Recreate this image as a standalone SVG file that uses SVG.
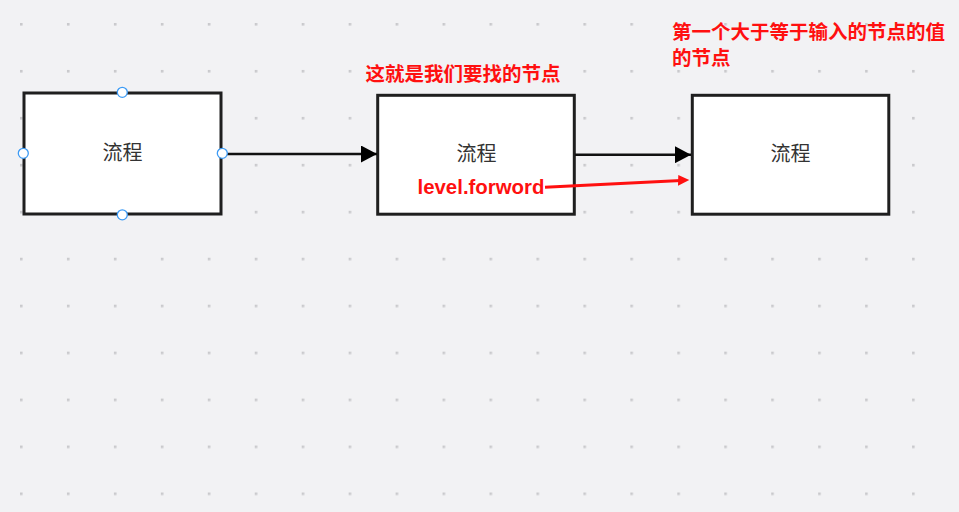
<svg xmlns="http://www.w3.org/2000/svg" width="959" height="512" viewBox="0 0 959 512">
<defs>
<pattern id="grid" patternUnits="userSpaceOnUse" x="20" y="23" width="46.95" height="46.95">
<rect x="0" y="0" width="2.6" height="2.6" fill="#c9c9cc"/>
</pattern>
<marker id="ah" viewBox="0 0 16 17" refX="16" refY="8.5" markerWidth="16" markerHeight="17" markerUnits="userSpaceOnUse" orient="auto">
<path d="M0,0 L16,8.5 L0,17 Z" fill="#000"/>
</marker>
</defs>
<style>
.node rect{fill:#fff;stroke:#1f1f1f;stroke-width:3}
.node text{font-family:"Liberation Sans","Noto Sans CJK SC",sans-serif;font-size:20px;fill:#333;text-anchor:middle}
.edge{stroke:#111;stroke-width:2.6;fill:none}
.red{font-family:"Liberation Sans","Noto Sans CJK SC",sans-serif;font-weight:bold;font-size:19.5px;fill:#ff1010}
.handle{fill:#fff;stroke:#3d9bf5;stroke-width:1.3}
</style>
<rect width="959" height="512" fill="#f2f2f4"/>
<rect width="959" height="512" fill="url(#grid)"/>
<g id="node1" class="node">
<rect x="24" y="93" width="197" height="121"/>
<text x="122.5" y="160">流程</text>
</g>
<g id="node2" class="node">
<rect x="377.7" y="95.3" width="196.6" height="118.9"/>
<text x="476.5" y="161">流程</text>
</g>
<g id="node3" class="node">
<rect x="692.3" y="95.3" width="196.5" height="118.9"/>
<text x="790.5" y="161">流程</text>
</g>
<g id="connectors">
<line class="edge" x1="223" y1="154" x2="377" y2="154" marker-end="url(#ah)"/>
<line class="edge" x1="575" y1="154.7" x2="691" y2="154.7" marker-end="url(#ah)"/>
<line x1="545" y1="187.3" x2="681" y2="180.4" stroke="#ff1010" stroke-width="3"/>
<path d="M678.3,175 L689.3,180 L678,185.7 Z" fill="#ff1010"/>
</g>
<g id="handles">
<circle class="handle" cx="122.3" cy="92.3" r="5"/>
<circle class="handle" cx="23.3" cy="153.3" r="5"/>
<circle class="handle" cx="222.3" cy="153.3" r="5"/>
<circle class="handle" cx="122.3" cy="214.8" r="5"/>
</g>
<g id="labels">
<text class="red" x="365.5" y="80.5">这就是我们要找的节点</text>
<text class="red" x="672" y="39">第一个大于等于输入的节点的值<tspan x="672" dy="26">的节点</tspan></text>
<text x="417.5" y="194" font-family="'Liberation Sans',Arial,sans-serif" font-weight="bold" font-size="21" fill="#ff1010" textLength="127" lengthAdjust="spacingAndGlyphs">level.forword</text>
</g>
</svg>
